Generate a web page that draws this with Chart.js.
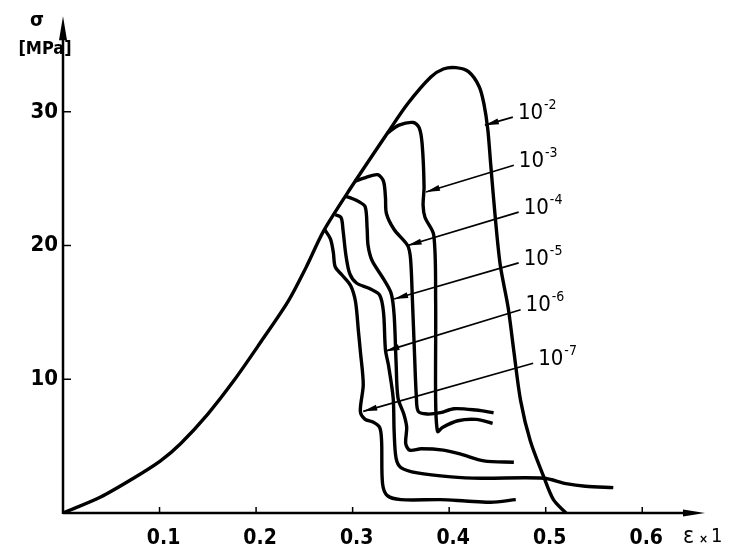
<!DOCTYPE html>
<html>
<head>
<meta charset="utf-8">
<script src="https://cdn.jsdelivr.net/npm/chart.js@4.4.0/dist/chart.umd.min.js"></script>
<style>
    html, body { margin: 0; padding: 0; background: #fff; }
</style>
</head>
<body>
<canvas id="meuGrafico" width="732" height="556"></canvas>
<script>
// Marcas dos eixos
const ticksX = [0.1, 0.2, 0.3, 0.4, 0.5, 0.6];
const labelsX = ['0.1', '0.2', '0.3', '0.4', '0.5', '0.6'];
const ticksY = [10, 20, 30];
const labelsY = ['10', '20', '30'];

// Expoentes das velocidades de deformação (10^-2 ... 10^-7)
const expoentes = ['-2', '-3', '-4', '-5', '-6', '-7'];

// Curva 10^-2 (inclui o trecho comum a todas as curvas)
const eps2 = [0, 0.039, 0.073, 0.101, 0.122, 0.150, 0.177, 0.205, 0.233, 0.252, 0.270, 0.298, 0.336, 0.357, 0.381, 0.394, 0.407, 0.420, 0.431, 0.436, 0.440, 0.443, 0.448, 0.453, 0.461, 0.467, 0.474, 0.484, 0.498, 0.508, 0.521];
const sig2 = [0, 1.2, 2.6, 3.9, 5.2, 7.4, 9.9, 12.8, 15.8, 18.4, 21.1, 24.3, 28.4, 30.6, 32.6, 33.2, 33.3, 33.0, 31.9, 30.6, 28.7, 26.1, 21.9, 18.5, 15.4, 12.1, 8.4, 5.4, 2.7, 1.0, 0];

// Curva 10^-3
const eps3 = [0.336, 0.348, 0.363, 0.369, 0.372, 0.374, 0.373, 0.375, 0.384, 0.386, 0.386, 0.388, 0.393, 0.409, 0.428, 0.445];
const sig3 = [28.4, 29.0, 29.2, 28.8, 27.6, 24.4, 23.0, 22.1, 20.8, 15.8, 8.4, 6.1, 6.4, 6.9, 7.0, 6.7];

// Curva 10^-4
const eps4 = [0.302, 0.314, 0.326, 0.332, 0.334, 0.335, 0.343, 0.357, 0.360, 0.362, 0.364, 0.366, 0.368, 0.377, 0.391, 0.405, 0.428, 0.446];
const sig4 = [24.8, 25.1, 25.3, 24.8, 23.6, 22.4, 21.2, 20.0, 19.0, 15.8, 12.1, 8.7, 7.6, 7.4, 7.5, 7.8, 7.7, 7.5];

// Curva 10^-5
const eps5 = [0.292, 0.300, 0.306, 0.313, 0.315, 0.316, 0.320, 0.332, 0.340, 0.343, 0.345, 0.347, 0.353, 0.356, 0.355, 0.359, 0.371, 0.394, 0.412, 0.436, 0.467];
const sig5 = [23.7, 23.5, 23.3, 22.9, 21.3, 20.0, 18.9, 17.5, 16.4, 14.8, 11.3, 8.6, 7.4, 6.4, 5.2, 4.7, 4.8, 4.7, 4.4, 3.9, 3.8];

// Curva 10^-6
const eps6 = [0.282, 0.288, 0.290, 0.293, 0.297, 0.304, 0.317, 0.328, 0.332, 0.334, 0.337, 0.342, 0.343, 0.345, 0.350, 0.367, 0.402, 0.433, 0.498, 0.521, 0.541, 0.570];
const sig6 = [22.3, 22.1, 21.2, 19.3, 17.9, 17.2, 16.8, 16.3, 15.0, 12.2, 11.1, 8.6, 6.1, 4.1, 3.4, 3.0, 2.7, 2.6, 2.6, 2.2, 2.0, 1.9];

// Curva 10^-7
const eps7 = [0.271, 0.277, 0.280, 0.282, 0.289, 0.298, 0.303, 0.306, 0.308, 0.311, 0.308, 0.313, 0.321, 0.328, 0.330, 0.331, 0.336, 0.350, 0.391, 0.417, 0.443, 0.469];
const sig7 = [21.2, 20.5, 19.5, 18.4, 17.8, 17.0, 15.8, 13.6, 12.1, 9.6, 7.6, 7.0, 6.8, 6.4, 5.4, 2.2, 1.3, 1.0, 1.0, 0.9, 0.8, 1.0];

// Setas que ligam cada rótulo à sua curva (início junto ao rótulo, ponta na curva)
const setaDeX = [0.466, 0.467, 0.472, 0.472, 0.474, 0.487];
const setaDeY = [29.6, 26.0, 22.5, 18.7, 15.2, 11.2];
const setaAteX = [0.437, 0.376, 0.357, 0.343, 0.334, 0.311];
const setaAteY = [29.0, 24.0, 20.0, 16.0, 12.1, 7.6];

const fonte = "'DejaVu Sans Condensed', 'DejaVu Sans', sans-serif";

// Monta os pontos {x, y} de uma curva
function pontos(eps, sig) {
    return eps.map((e, i) => ({ x: e, y: sig[i] }));
}

// Triângulo cheio com a ponta em (px, py) apontando na direção (dx, dy)
function ponta(ctx, px, py, dx, dy, comp, larg) {
    const bx = px - dx * comp, by = py - dy * comp;
    ctx.beginPath();
    ctx.moveTo(px, py);
    ctx.lineTo(bx - dy * larg, by + dx * larg);
    ctx.lineTo(bx + dy * larg, by - dx * larg);
    ctx.closePath();
    ctx.fill();
}

// Eixos com setas, marcas internas, títulos e rótulos das curvas
const desenhoExtra = {
    id: 'desenhoExtra',
    afterDatasetsDraw(chart) {
        const { ctx, chartArea, scales } = chart;
        const x = scales.x, y = scales.y;
        const x0 = x.getPixelForValue(0), y0 = y.getPixelForValue(0);
        ctx.save();
        ctx.strokeStyle = '#000';
        ctx.fillStyle = '#000';
        ctx.lineCap = 'butt';

        // eixos
        ctx.lineWidth = 2.5;
        ctx.beginPath();
        ctx.moveTo(x0, y0);
        ctx.lineTo(chartArea.right - 12, y0);
        ctx.moveTo(x0, y0 + 1);
        ctx.lineTo(x0, chartArea.top + 14);
        ctx.stroke();
        ponta(ctx, chartArea.right, y0, 1, 0, 22, 3.5);
        ponta(ctx, x0, chartArea.top - 2, 0, -1, 24, 4);

        // marcas dos eixos (para dentro)
        ctx.lineWidth = 1.5;
        ctx.beginPath();
        ticksX.forEach(v => {
            const px = x.getPixelForValue(v);
            ctx.moveTo(px, y0);
            ctx.lineTo(px, y0 - 6);
        });
        ticksY.forEach(v => {
            const py = y.getPixelForValue(v);
            ctx.moveTo(x0, py);
            ctx.lineTo(x0 + 8, py);
        });
        ctx.stroke();

        // título do eixo y
        ctx.textBaseline = 'middle';
        ctx.textAlign = 'center';
        ctx.font = 'bold 20px ' + fonte;
        ctx.fillText('σ', 37, 21);
        ctx.font = 'bold 18px ' + fonte;
        ctx.fillText('[MPa]', 45, 49);

        // título do eixo x
        ctx.textAlign = 'left';
        ctx.font = '23px ' + fonte;
        ctx.fillText('ε', 683, 537);
        ctx.font = 'bold 12px ' + fonte;
        ctx.fillText('×', 699, 540);
        ctx.font = '20px ' + fonte;
        ctx.fillText('1', 711, 537);

        // setas e rótulos 10^n
        expoentes.forEach((expo, i) => {
            const ax = x.getPixelForValue(setaDeX[i]), ay = y.getPixelForValue(setaDeY[i]);
            const bx = x.getPixelForValue(setaAteX[i]), by = y.getPixelForValue(setaAteY[i]);
            const d = Math.hypot(bx - ax, by - ay);
            ctx.lineWidth = 1.7;
            ctx.beginPath();
            ctx.moveTo(ax, ay);
            ctx.lineTo(bx, by);
            ctx.stroke();
            ponta(ctx, bx, by, (bx - ax) / d, (by - ay) / d, 14, 3);

            ctx.font = '22px ' + fonte;
            ctx.textBaseline = 'middle';
            ctx.fillText('10', ax + 5, ay - 4);
            const w = ctx.measureText('10').width;
            ctx.font = '14px ' + fonte;
            ctx.fillText(expo, ax + 6 + w, ay - 12);
        });
        ctx.restore();
    }
};

const curvas = [[eps2, sig2], [eps3, sig3], [eps4, sig4], [eps5, sig5], [eps6, sig6], [eps7, sig7]];

const ctx = document.getElementById('meuGrafico').getContext('2d');
const grafico = new Chart(ctx, {
    type: 'scatter',
    data: {
        datasets: curvas.map(([eps, sig], i) => ({
            label: '10' + expoentes[i],
            data: pontos(eps, sig),
            showLine: true,
            borderColor: '#000',
            borderWidth: 3.4,
            pointRadius: 0,
            tension: 0.3,
            fill: false
        }))
    },
    options: {
        responsive: false,
        animation: false,
        devicePixelRatio: 1,
        layout: { padding: { top: 13, right: 27, left: 0, bottom: 0 } },
        plugins: { legend: { display: false }, tooltip: { enabled: false } },
        scales: {
            x: {
                type: 'linear',
                min: 0,
                max: 0.665,
                grid: { display: false, drawTicks: false },
                border: { display: false },
                afterBuildTicks: s => { s.ticks = ticksX.map(v => ({ value: v })); },
                afterFit: s => { s.height = 43; },
                ticks: {
                    callback: (v, i) => labelsX[i],
                    color: '#000',
                    font: { family: fonte, size: 21, weight: 'bold' },
                    padding: 13,
                    labelOffset: 4,
                    maxRotation: 0,
                    autoSkip: false
                }
            },
            y: {
                type: 'linear',
                min: 0,
                max: 37,
                grid: { display: false, drawTicks: false },
                border: { display: false },
                afterBuildTicks: s => { s.ticks = ticksY.map(v => ({ value: v })); },
                afterFit: s => { s.width = 63; },
                ticks: {
                    callback: (v, i) => labelsY[i],
                    color: '#000',
                    font: { family: fonte, size: 22, weight: 'bold' },
                    padding: 5
                }
            }
        }
    },
    plugins: [desenhoExtra]
});
</script>
</body>
</html>
